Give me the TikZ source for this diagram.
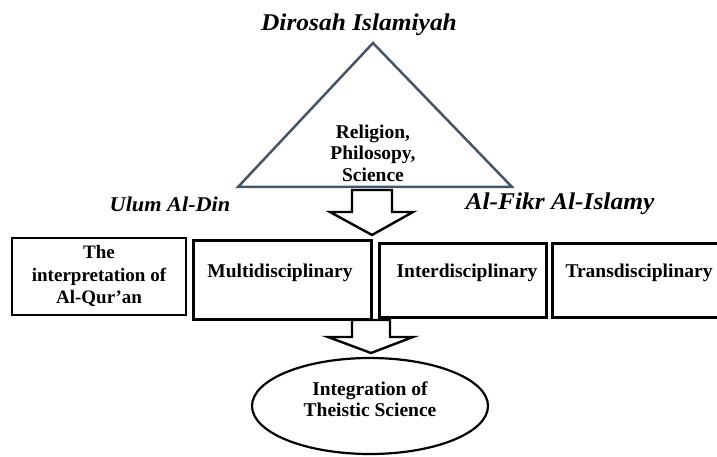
\documentclass[tikz,border=0pt]{standalone}
\usepackage{fontspec}
\setmainfont{Liberation Serif}
\newfontfamily\hdrfont[FakeStretch=1.06]{Liberation Serif}
\usetikzlibrary{shapes.geometric}
\definecolor{tri}{HTML}{44546A}
\tikzset{
  boxnode/.style={draw=black, line width=2.6pt, inner sep=0pt},
  blockarrow/.style={draw=black, line width=2.4pt, fill=white, line join=miter},
  hdr/.style={font=\hdrfont\bfseries\itshape\fontsize{24}{26}\selectfont},
  txt/.style={font=\bfseries\fontsize{19.5}{21.5}\selectfont, align=center}
}
\begin{document}
\begin{tikzpicture}[x=1pt,y=-1pt]
\useasboundingbox (0,0) rectangle (717,457);
% title
\node[hdr] (title) at (359,25) {Dirosah Islamiyah};
% triangle
\coordinate (apex) at (373,43);
\coordinate (bl) at (238,187);
\coordinate (br) at (512,187);
\draw[tri, line width=2.5pt, line join=miter] (apex) -- (bl) -- (br) -- cycle;
\node[txt] (tritext) at (373,153) {Religion,\\Philosopy,\\Science};
% side labels
\node[hdr, font=\hdrfont\bfseries\itshape\fontsize{21}{24}\selectfont] (ulum) at (170,204) {Ulum Al-Din};
\node[hdr] (fikr) at (560,204) {Al-Fikr Al-Islamy};
% top block arrow
\draw[blockarrow] (352,190) -- (392,190) -- (392,212) -- (413,212) -- (372,235) -- (330,212) -- (352,212) -- cycle;
% boxes
\node[boxnode, minimum width=174pt, minimum height=77pt] (b1) at (99,276.5) {};
\node[txt, font=\bfseries\fontsize{19}{22.5}\selectfont] (b1t) at (99,276) {The\\interpretation of\\Al-Qur'an};
\node[boxnode, minimum width=178pt, minimum height=79pt, anchor=north west] (b2) at (192,239) {};
\node[txt] (b2t) at (280,273) {Multidisciplinary};
\node[boxnode, minimum width=167pt, minimum height=74pt, anchor=north west] (b3) at (378,242) {};
\node[txt] (b3t) at (467,273) {Interdisciplinary};
\node[boxnode, minimum width=166pt, minimum height=74pt, anchor=north west] (b4) at (551,242) {};
\node[txt] (b4t) at (639,273) {Transdisciplinary};
% bottom block arrow
\draw[blockarrow] (352,320) -- (390,320) -- (390,337) -- (413,337) -- (371,353) -- (328,337) -- (352,337) -- cycle;
% ellipse
\node[draw=black, line width=2.2pt, ellipse, minimum width=236pt, minimum height=96pt, inner sep=0pt] (ell) at (370,406) {};
\node[txt, font=\bfseries\fontsize{19.5}{20.5}\selectfont] (ellt) at (370,399) {Integration of\\Theistic Science};
\end{tikzpicture}
\end{document}
